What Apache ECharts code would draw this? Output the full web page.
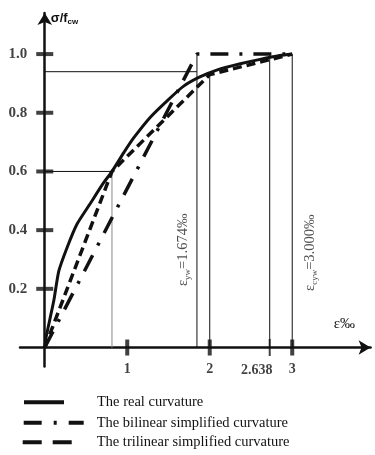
<!DOCTYPE html>
<html>
<head>
<meta charset="utf-8">
<script src="https://cdn.jsdelivr.net/npm/echarts@6/dist/echarts.min.js"></script>
<style>
  html, body { margin: 0; padding: 0; background: #fff; }
  #chart { width: 375px; height: 455px; }
</style>
</head>
<body>
<div id="chart"></div>
<script>
// real curve (strain in ‰, sigma / f_cw)
const realX = [0, 0.02, 0.11, 0.17, 0.27, 0.39, 0.55, 0.71, 0.815, 0.96, 1.08, 1.28, 1.48, 1.68, 1.88, 2.11, 2.37, 2.61, 2.85, 3.0];
const realY = [0, 0.04, 0.16, 0.26, 0.34, 0.42, 0.49, 0.56, 0.60, 0.665, 0.715, 0.785, 0.84, 0.89, 0.922, 0.948, 0.967, 0.982, 0.995, 1.0];

// bilinear / trilinear simplifications
const bilinearX = [0, 1.845, 3.0];
const bilinearY = [0, 1.0, 1.0];
const trilinearX = [0, 0.815, 2.0, 3.0];
const trilinearY = [0, 0.6, 0.93, 1.0];

// helper lines
const guideLines = [
  [[0, 0.94], [1.845, 0.94]],
  [[1.845, 0], [1.845, 1.0]],
  [[2.0, 0], [2.0, 0.93]],
  [[2.727, 0], [2.727, 1.0]],
  [[3.0, 0], [3.0, 1.0]],
  [[0, 0.6], [0.815, 0.6]]
];
const grayLine = [[0.815, 0], [0.815, 0.6]];

// ticks
const yTickVals = [0.2, 0.4, 0.6, 0.8, 1.0];
const yTickLabels = ["0.2", "0.4", "0.6", "0.8", "1.0"];
const xTickVals = [1, 2, 2.727, 3];
const xTickLabels = ["1", "2", "2.638", "3"];

const legendNames = [
  "The real curvature",
  "The bilinear simplified curvature",
  "The trilinear simplified curvature"
];

const zip = (xs, ys) => xs.map((x, i) => [x, ys[i]]);
const ink = "#111";
const serif = "Liberation Serif";

const chart = echarts.init(document.getElementById("chart"));

const guideSeries = guideLines.map((seg) => ({
  type: "line",
  data: seg,
  symbol: "none",
  silent: true,
  lineStyle: { color: ink, width: 1 },
  z: 1
}));

const sub = {
  e: { fontFamily: serif, fontSize: 14.5, color: "#222", lineHeight: 18, verticalAlign: "middle" },
  s: { fontFamily: serif, fontSize: 9, color: "#222", lineHeight: 10, verticalAlign: "bottom" }
};

const option = {
  animation: false,
  grid: { left: 20, right: 4.4, top: 13, bottom: 88.4 },
  xAxis: {
    type: "value",
    min: -0.3,
    max: 3.95,
    splitLine: { show: false },
    axisTick: { show: false },
    axisLabel: { show: false },
    axisLine: {
      onZero: true,
      symbol: ["none", "arrow"],
      symbolSize: [11, 12],
      lineStyle: { color: ink, width: 2.5 }
    },
    name: "ε‰",
    nameLocation: "end",
    nameGap: -15.6,
    nameTextStyle: {
      fontFamily: serif,
      fontSize: 15,
      color: ink,
      align: "right",
      verticalAlign: "bottom",
      padding: [0, 0, 16, 0]
    }
  },
  yAxis: {
    type: "value",
    min: -0.065,
    max: 1.14,
    splitLine: { show: false },
    axisTick: { show: false },
    axisLabel: { show: false },
    axisLine: {
      onZero: true,
      symbol: ["none", "arrow"],
      symbolSize: [11, 12],
      lineStyle: { color: ink, width: 2.5 }
    },
    name: "{a|σ/f}{b|cw}",
    nameLocation: "end",
    nameGap: -5,
    nameTextStyle: {
      align: "left",
      verticalAlign: "middle",
      padding: [0, 0, 0, 6],
      rich: {
        a: { fontFamily: "Liberation Sans", fontWeight: "bold", fontSize: 13, color: ink, lineHeight: 16, verticalAlign: "middle" },
        b: { fontFamily: "Liberation Sans", fontWeight: "bold", fontSize: 8, color: ink, lineHeight: 9, verticalAlign: "bottom" }
      }
    }
  },
  legend: [
    { left: 22, itemWidth: 40, pad: 28, top: 394.7 },
    { left: 21.7, itemWidth: 60, pad: 8, top: 415.3 },
    { left: 20.7, itemWidth: 49, pad: 20, top: 434.7 }
  ].map((l, i) => ({
    left: l.left,
    top: l.top,
    padding: 0,
    orient: "vertical",
    itemWidth: l.itemWidth,
    itemHeight: 14,
    selectedMode: false,
    data: [{
      name: legendNames[i],
      itemStyle: { color: "rgba(0,0,0,0)", borderWidth: 0, opacity: 0 },
      lineStyle: {
        color: ink,
        width: 4,
        type: i === 0 ? "solid" : i === 1 ? [18, 12, 3, 12] : [19, 11]
      }
    }],
    textStyle: { fontFamily: serif, fontSize: 14.5, color: ink, padding: [0, 0, 0, l.pad] }
  })),
  series: [
    ...guideSeries,
    {
      type: "line",
      data: grayLine,
      symbol: "none",
      silent: true,
      lineStyle: { color: "#888", width: 1 },
      z: 1
    },
    {
      name: legendNames[2],
      type: "line",
      data: zip(trilinearX, trilinearY),
      symbol: "none",
      lineStyle: { color: ink, width: 3.5, type: [9, 5] },
      z: 3
    },
    {
      name: legendNames[1],
      type: "line",
      data: zip(bilinearX, bilinearY),
      symbol: "none",
      lineStyle: { color: ink, width: 3.5, type: [18, 11, 3, 11] },
      z: 3
    },
    {
      name: legendNames[0],
      type: "line",
      data: zip(realX, realY),
      symbol: "none",
      smooth: 0.2,
      lineStyle: { color: ink, width: 3 },
      z: 4
    },
    {
      // y-axis tick bars with labels
      type: "scatter",
      data: yTickVals.map((v) => [0, v]),
      symbol: "rect",
      symbolSize: [17, 4],
      itemStyle: { color: ink },
      silent: true,
      z: 5,
      label: {
        show: true,
        position: "left",
        distance: 9,
        formatter: (p) => yTickLabels[p.dataIndex],
        fontFamily: serif,
        fontWeight: "bold",
        fontSize: 15,
        color: ink
      }
    },
    {
      // x-axis tick bars with labels
      type: "scatter",
      data: xTickVals.map((v, i) => ({
        value: [v, 0],
        symbolSize: i === 2 ? [2, 17] : [4, 16],
        label: { offset: i === 2 ? [-13, 0] : [0, 0] }
      })),
      symbol: "rect",
      itemStyle: { color: ink },
      silent: true,
      z: 5,
      label: {
        show: true,
        position: "bottom",
        distance: 7,
        formatter: (p) => xTickLabels[p.dataIndex],
        fontFamily: serif,
        fontWeight: "bold",
        fontSize: 14,
        color: ink
      }
    },
    {
      // rotated strain annotations
      type: "scatter",
      symbolSize: 0,
      silent: true,
      data: [
        { value: [1.845, 0.333], label: { offset: [0, -13.4], formatter: "{e|ε}{s|yw}{e|=1.674‰}" } },
        { value: [3.0, 0.323], label: { offset: [0, 18], formatter: "{e|ε}{s|cyw}{e|=3.000‰}" } }
      ],
      label: {
        show: true,
        position: "inside",
        rotate: 90,
        rich: sub
      }
    }
  ]
};

chart.setOption(option);
</script>
</body>
</html>
